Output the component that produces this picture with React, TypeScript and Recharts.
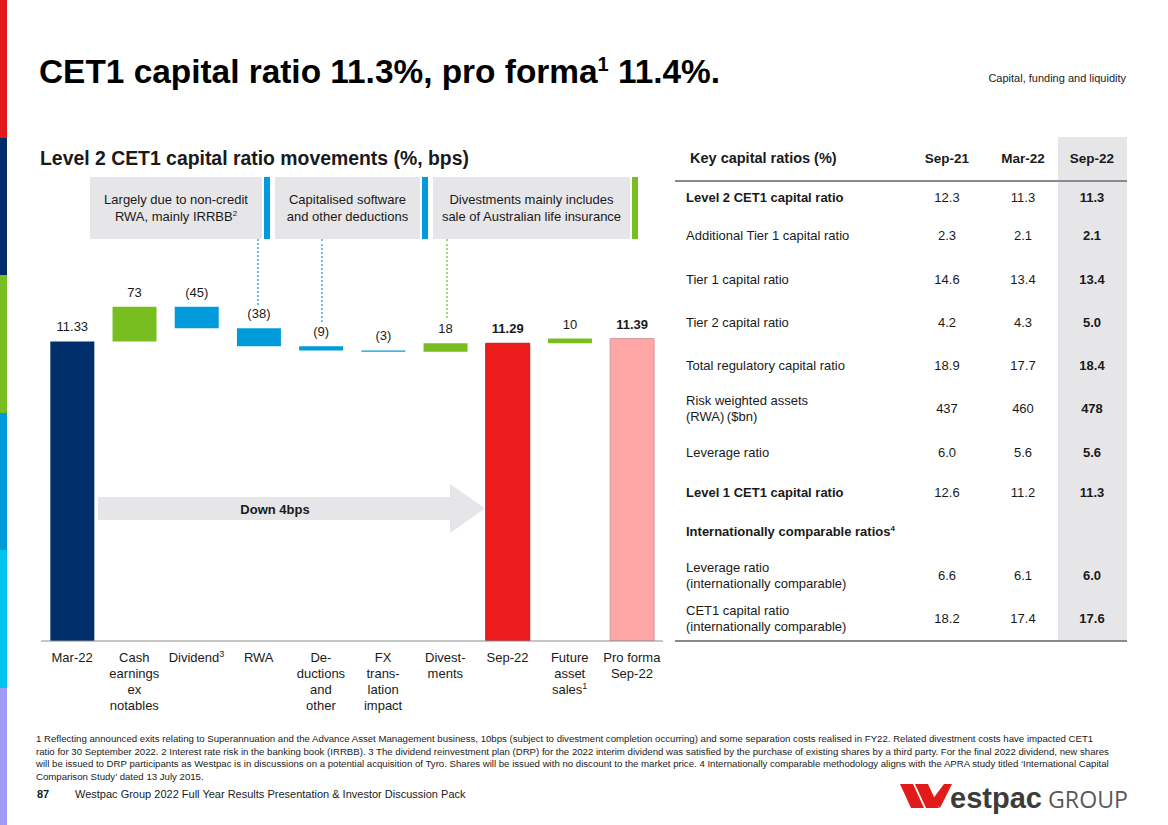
import React from "react"
import { Bar, BarChart, Cell, LabelList, XAxis, YAxis } from "recharts"

// waterfall data (values in %, movements in bps)
const categories = [
  "Mar-22",
  "Cash\nearnings\nex\nnotables",
  "Dividend",
  "RWA",
  "De-\nductions\nand\nother",
  "FX\ntrans-\nlation\nimpact",
  "Divest-\nments",
  "Sep-22",
  "Future\nasset\nsales",
  "Pro forma\nSep-22",
]
const footnoteRefs = ["", "", "3", "", "", "", "", "", "1", ""]
const totals = [11.33, null, null, null, null, null, null, 11.29, null, 11.39]
const movementsBps = [null, 73, -45, -38, -9, -3, 18, null, 10, null]
const boldLabels = [false, false, false, false, false, false, false, true, false, true]

// key capital ratios table
const rowLabels = [
  "Level 2 CET1 capital ratio",
  "Additional Tier 1 capital ratio",
  "Tier 1 capital ratio",
  "Tier 2 capital ratio",
  "Total regulatory capital ratio",
  "Risk weighted assets\n(RWA)\u2009($bn)",
  "Leverage ratio",
  "Level 1 CET1 capital ratio",
  "Internationally comparable ratios",
  "Leverage ratio\n(internationally comparable)",
  "CET1 capital ratio\n(internationally comparable)",
]
const boldRows = [true, false, false, false, false, false, false, true, true, false, false]
const sep21 = ["12.3", "2.3", "14.6", "4.2", "18.9", "437", "6.0", "12.6", "", "6.6", "18.2"]
const mar22 = ["11.3", "2.1", "13.4", "4.3", "17.7", "460", "5.6", "11.2", "", "6.1", "17.4"]
const sep22 = ["11.3", "2.1", "13.4", "5.0", "18.4", "478", "5.6", "11.3", "", "6.0", "17.6"]

const AXIS_MIN = 5
const AXIS_MAX = 13.05

const NAVY = "#002F6C"
const GREEN = "#78BE20"
const BLUE = "#009BDA"
const RED = "#EC1C1C"
const PINK = "#FFA6A6"
const GREY_BOX = "#E6E5E8"
const TEXT = "#1a1a1a"
const FONT = "'Liberation Sans', Arial, sans-serif"

const totalColors: Record<string, string> = { "Mar-22": NAVY, "Sep-22": RED, "Pro forma\nSep-22": PINK }

function buildData() {
  let level = 0
  return categories.map((name, i) => {
    const total = totals[i]
    if (total != null) {
      level = total
      return { name, range: [AXIS_MIN, total], label: total.toFixed(2), color: totalColors[name] }
    }
    const bps = movementsBps[i] as number
    const start = level
    level = start + bps / 100
    return {
      name,
      range: [Math.min(start, level), Math.max(start, level)],
      label: bps < 0 ? `(${-bps})` : `${bps}`,
      color: bps < 0 ? BLUE : GREEN,
    }
  })
}

const chartData = buildData()

function CategoryTick(props: any) {
  const { x, y, payload } = props
  const lines = String(payload.value).split("\n")
  const sup = footnoteRefs[payload.index]
  return (
    <text x={x} y={y} textAnchor="middle" fontSize={13} fill={TEXT} fontFamily={FONT}>
      {lines.map((line, i) => (
        <tspan key={i} x={x} dy={i === 0 ? 13 : 16}>
          {line}
          {i === lines.length - 1 && sup ? (
            <tspan fontSize={9} dy={-5}>{sup}</tspan>
          ) : null}
        </tspan>
      ))}
    </text>
  )
}

function BarValueLabel(props: any) {
  const { x, y, width, index } = props
  const d = chartData[index]
  if (!d) return null
  return (
    <text
      x={x + width / 2}
      y={y - 10}
      textAnchor="middle"
      fontSize={13}
      fontWeight={boldLabels[index] ? 700 : 400}
      fill={TEXT}
      fontFamily={FONT}
    >
      {d.label}
    </text>
  )
}

function WaterfallChart() {
  return (
    <BarChart width={622} height={460} data={chartData} margin={{ top: 0, right: 0, bottom: 0, left: 0 }} barCategoryGap="15%">
      <XAxis
        dataKey="name"
        interval={0}
        tickLine={false}
        axisLine={{ stroke: "#8c8c8c" }}
        height={79}
        tick={(p: any) => <CategoryTick {...p} />}
      />
      <YAxis hide domain={[AXIS_MIN, AXIS_MAX]} allowDataOverflow />
      <Bar dataKey="range" isAnimationActive={false}>
        {chartData.map((entry, index) => (
          <Cell
            key={`cell-${index}`}
            fill={entry.color}
            stroke={entry.color === PINK ? "#d99a9a" : entry.color === RED ? "#c81818" : "none"}
            strokeWidth={entry.color === PINK || entry.color === RED ? 1 : 0}
          />
        ))}
        <LabelList dataKey="label" content={(p: any) => <BarValueLabel {...p} />} />
      </Bar>
    </BarChart>
  )
}

const stripColors = ["#E21A1A", "#002D6A", "#78BE20", "#009AD6", "#00C3F0", "#A09BF5"]

function Annotation({ left, width, barColor, lines }: { left: number; width: number; barColor: string; lines: React.ReactNode[] }) {
  return (
    <>
      <div
        style={{
          position: "absolute",
          left,
          top: 177,
          width,
          height: 62,
          background: GREY_BOX,
          display: "flex",
          flexDirection: "column",
          justifyContent: "center",
          alignItems: "center",
          fontSize: 13,
          lineHeight: "17px",
          color: TEXT,
          textAlign: "center",
        }}
      >
        {lines.map((l, i) => (
          <div key={i}>{l}</div>
        ))}
      </div>
      <div style={{ position: "absolute", left: left + width + 2, top: 177, width: 6, height: 62, background: barColor }} />
    </>
  )
}

function DottedLine({ x, top, bottom, color }: { x: number; top: number; bottom: number; color: string }) {
  return <div style={{ position: "absolute", left: x, top, height: bottom - top, borderLeft: `2px dotted ${color}` }} />
}

const rowCenters = [198, 236, 280, 323, 366, 409, 453, 493, 532, 576, 619]

function CapitalTable() {
  const cell = (center: number, text: string, bold: boolean) => (
    <div style={{ position: "absolute", left: center - 35, width: 70, textAlign: "center", fontWeight: bold ? 700 : 400 }}>{text}</div>
  )
  return (
    <div style={{ position: "absolute", left: 0, top: 0, fontSize: 13, color: TEXT }}>
      <div style={{ position: "absolute", left: 1058, top: 137, width: 69, height: 504, background: GREY_BOX }} />
      <div style={{ position: "absolute", left: 690, top: 150, fontSize: 14.5, fontWeight: 700, whiteSpace: "nowrap" }}>Key capital ratios (%)</div>
      <div style={{ position: "absolute", left: 0, top: 151, fontWeight: 700, fontSize: 13.5 }}>
        {cell(947, "Sep-21", true)}
        {cell(1023, "Mar-22", true)}
        {cell(1092, "Sep-22", true)}
      </div>
      <div style={{ position: "absolute", left: 675, top: 180, width: 452, height: 2, background: "#8a8a8a" }} />
      {rowLabels.map((label, i) => {
        const lines = label.split("\n")
        const h = lines.length * 16
        const top = rowCenters[i] - h / 2
        return (
          <div key={i} style={{ position: "absolute", left: 0, top, height: h, lineHeight: "16px" }}>
            <div style={{ position: "absolute", left: 686, whiteSpace: "nowrap", fontWeight: boldRows[i] ? 700 : 400 }}>
              {lines.map((l, j) => (
                <div key={j}>
                  {l}
                  {i === 8 ? <sup style={{ fontSize: 8, lineHeight: 0 }}>4</sup> : null}
                </div>
              ))}
            </div>
            <div style={{ position: "absolute", left: 0, top: (h - 16) / 2 }}>
              {cell(947, sep21[i], false)}
              {cell(1023, mar22[i], false)}
              {cell(1092, sep22[i], true)}
            </div>
          </div>
        )
      })}
      <div style={{ position: "absolute", left: 675, top: 640, width: 452, height: 1.5, background: "#8a8a8a" }} />
    </div>
  )
}

const footnoteLines = [
  "1 Reflecting announced exits relating to Superannuation and the Advance Asset Management business, 10bps (subject to divestment completion occurring) and some separation costs realised in FY22. Related divestment costs have impacted CET1",
  "ratio for 30 September 2022. 2 Interest rate risk in the banking book (IRRBB). 3 The dividend reinvestment plan (DRP) for the 2022 interim dividend was satisfied by the purchase of existing shares by a third party. For the final 2022 dividend, new shares",
  "will be issued to DRP participants as Westpac is in discussions on a potential acquisition of Tyro. Shares will be issued with no discount to the market price. 4 Internationally comparable methodology aligns with the APRA study titled \u2018International Capital",
  "Comparison Study\u2019 dated 13 July 2015.",
]

export default function App() {
  return (
    <div style={{ position: "absolute", left: 0, top: 0, width: 1168, height: 825, background: "#fff", fontFamily: FONT, color: TEXT, overflow: "hidden" }}>
      {stripColors.map((c, i) => (
        <div key={i} style={{ position: "absolute", left: 0, top: i * 137.5, width: 7, height: 137.5, background: c }} />
      ))}

      <div style={{ position: "absolute", left: 39, top: 53, fontSize: 33.4, fontWeight: 700, whiteSpace: "nowrap", color: "#000" }}>
        CET1 capital ratio 11.3%, pro forma<sup style={{ fontSize: 20, lineHeight: 0 }}>1</sup> 11.4%.
      </div>
      <div style={{ position: "absolute", right: 42, top: 72, fontSize: 11, whiteSpace: "nowrap" }}>Capital, funding and liquidity</div>

      <div style={{ position: "absolute", left: 40, top: 147, fontSize: 19.4, fontWeight: 700, whiteSpace: "nowrap" }}>
        Level 2 CET1 capital ratio movements (%, bps)
      </div>

      <Annotation left={90} width={172} barColor={BLUE} lines={["Largely due to non-credit", <>RWA, mainly IRRBB<sup style={{ fontSize: 8, lineHeight: 0 }}>2</sup></>]} />
      <Annotation left={275} width={145} barColor={BLUE} lines={["Capitalised software", "and other deductions"]} />
      <Annotation left={433} width={197} barColor={GREEN} lines={["Divestments mainly includes", "sale of Australian life insurance"]} />
      <DottedLine x={257} top={239} bottom={305} color="#6cc4ea" />
      <DottedLine x={321} top={239} bottom={322} color="#6cc4ea" />
      <DottedLine x={446} top={239} bottom={318} color="#a8d57c" />

      <div style={{ position: "absolute", left: 41, top: 260 }}>
        <WaterfallChart />
      </div>

      <svg style={{ position: "absolute", left: 0, top: 0 }} width={1168} height={825} pointerEvents="none">
        <polygon points="98,497 450,497 450,484 485,508.5 450,533 450,520 98,520" fill={GREY_BOX} />
        <text x={275} y={513.5} textAnchor="middle" fontSize={13} fontWeight={700} fill={TEXT} fontFamily={FONT}>
          Down 4bps
        </text>
      </svg>

      <CapitalTable />

      <div style={{ position: "absolute", left: 36, top: 733, fontSize: 9.65, lineHeight: "12.5px", color: TEXT }}>
        {footnoteLines.map((l, i) => (
          <div key={i} style={{ whiteSpace: "nowrap" }}>{l}</div>
        ))}
      </div>
      <div style={{ position: "absolute", left: 37, top: 788, fontSize: 11, whiteSpace: "nowrap" }}>
        <span style={{ fontWeight: 700 }}>87</span>
        <span style={{ position: "absolute", left: 38 }}>Westpac Group 2022 Full Year Results Presentation &amp; Investor Discussion Pack</span>
      </div>

      <svg style={{ position: "absolute", left: 898, top: 778 }} width={240} height={36}>
        <polygon points="2,6 15,6 26,30 13,30" fill="#E21A1A" />
        <polygon points="17,6 30,6 41,30 28,30" fill="#E21A1A" />
        <polygon points="34,22 46,6 54,6 42,30" fill="#E21A1A" />
        <text x={52} y={30} fontSize={30} fontWeight={700} fill="#3c3c3c" fontFamily={FONT} textLength={92} lengthAdjust="spacingAndGlyphs">
          estpac
        </text>
        <text x={150} y={30} fontSize={24} fill="#5a5a5a" fontFamily="'Open Sans', sans-serif" textLength={80} lengthAdjust="spacingAndGlyphs">
          GROUP
        </text>
      </svg>
    </div>
  )
}
